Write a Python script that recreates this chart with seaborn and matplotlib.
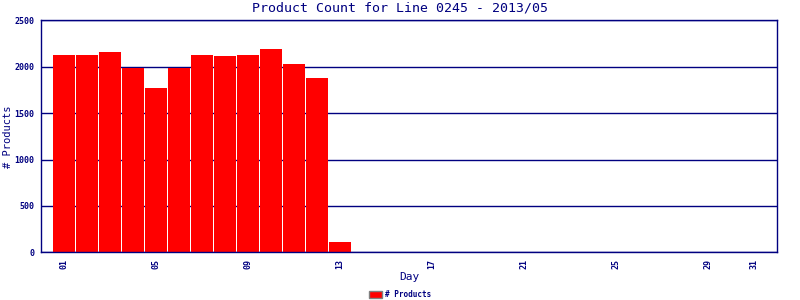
import matplotlib
matplotlib.use("Agg")
import matplotlib.pyplot as plt
import seaborn as sns
import pandas as pd

days = [f"{d:02d}" for d in range(1, 32)]
products = [2132, 2122, 2154, 1982, 1767, 1992, 2122, 2111, 2132, 2197, 2025, 1874, 111,
            0, 0, 0, 0, 0, 0, 0, 0, 0, 0, 0, 0, 0, 0, 0, 0, 0, 0]
shown_ticks = ["01", "05", "09", "13", "17", "21", "25", "29", "31"]
y_ticks = [0, 500, 1000, 1500, 2000, 2500]

NAVY = "#000080"
sns.set_theme(style="white")
plt.rcParams['font.family'] = ['DejaVu Sans Mono', 'DejaVu Sans']

df = pd.DataFrame({"Day": days, "Products": products})

fig = plt.figure(figsize=(8, 3), dpi=100)
ax = fig.add_axes([0.05125, 0.159, 0.9205, 0.773])
sns.barplot(data=df, x="Day", y="Products", color="#ff0000", saturation=1,
            width=0.96, edgecolor="none", linewidth=0, ax=ax, label="# Products")

ax.set_xlim(-1.02, 31.02)
ax.set_ylim(0, 2500)
ax.set_yticks(y_ticks)
ax.set_yticklabels([str(v) for v in y_ticks], fontsize=6, color=NAVY, fontweight="bold")
pos = [days.index(t) for t in shown_ticks]
ax.set_xticks(pos)
ax.set_xticklabels(shown_ticks, rotation=90, fontsize=6, color=NAVY, fontweight="bold")
ax.tick_params(axis="both", length=0, pad=5)
ax.yaxis.grid(True, color=NAVY, linewidth=1)
ax.set_axisbelow(True)
for s in ax.spines.values():
    s.set_color(NAVY)
    s.set_linewidth(1)
    s.set_visible(True)

ax.set_xlabel("Day", fontsize=8, color=NAVY, labelpad=2)
ax.set_ylabel("# Products", fontsize=7.5, color=NAVY, labelpad=1)
fig.suptitle("Product Count for Line 0245 - 2013/05", fontsize=9.5, color=NAVY, y=0.995)

handles, labels = ax.get_legend_handles_labels()
if ax.get_legend() is not None:
    ax.get_legend().remove()
leg = fig.legend(handles[:1], labels[:1], loc="center", bbox_to_anchor=(0.5, 0.017),
                 ncol=1, frameon=False, fontsize=5.5, handlelength=1.7, handleheight=1.05,
                 handletextpad=0.3, borderaxespad=0, borderpad=0)
for t in leg.get_texts():
    t.set_color(NAVY)
    t.set_fontweight("bold")
for h in leg.legend_handles:
    h.set_edgecolor("#808080")
    h.set_linewidth(1)

fig.savefig("out.png", dpi=100, facecolor="white")
